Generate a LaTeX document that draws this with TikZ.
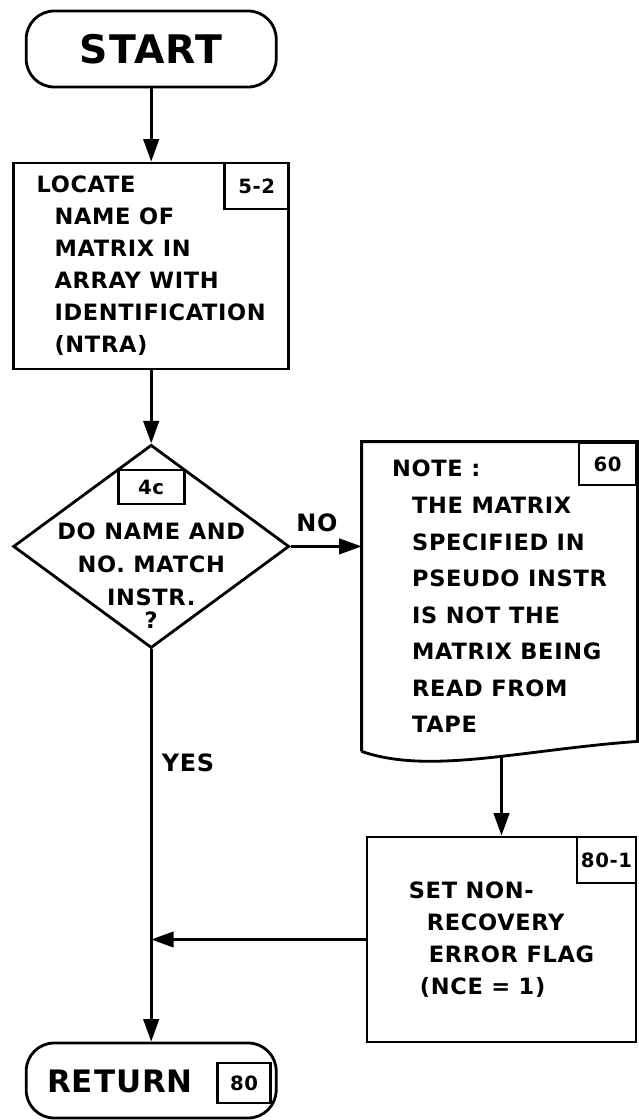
\documentclass[tikz,border=0pt]{standalone}
\usepackage{fontspec}
\setmainfont{DejaVu Sans}[UprightFont=* Bold,LetterSpace=3]
\usetikzlibrary{shapes.geometric,arrows.meta}

\begin{document}
\begin{tikzpicture}[line width=2pt,>={Triangle[length=16pt,width=11pt]},
  term/.style={draw,rounded corners=0.7cm,minimum width=6.25cm,minimum height=1.9cm},
  proc/.style={draw,align=left,font=\fontsize{16}{22.75}\selectfont},
  tag/.style={draw,inner sep=0pt,font=\fontsize{14}{16}\selectfont},
  lbl/.style={font=\fontsize{17}{20}\selectfont}]
\useasboundingbox (0,0) rectangle (15.95,-28);
% main column
\node[term,font=\fontsize{28}{30}\selectfont] (start) at (3.78,-1.225) {START};
\node[proc,minimum width=6.875cm,minimum height=5.15cm] (locate) at (3.78,-6.65)
  {LOCATE\\\hspace*{0.45cm}NAME OF\\\hspace*{0.45cm}MATRIX IN\\\hspace*{0.45cm}ARRAY WITH\\\hspace*{0.45cm}IDENTIFICATION\\\hspace*{0.45cm}(NTRA)};
\node[tag,minimum width=1.6cm,minimum height=1.15cm,anchor=north east] (tag52) at (locate.north east) {5-2};
\node[draw,diamond,minimum width=6.9cm,minimum height=5.08cm,inner sep=0pt] (decide) at (3.78,-13.66) {};
\node[tag,minimum width=1.65cm,minimum height=0.85cm] (tag4c) at (3.78,-12.175) {4c};
\node[align=center,font=\fontsize{16}{23.5}\selectfont] (ask) at (3.78,-14.4)
  {DO NAME AND\\NO. MATCH\\INSTR.\\[-7pt]?};
\node[term,minimum height=1.875cm] (return) at (3.78,-27.0125) {};
\node[font=\fontsize{22}{24}\selectfont] (rettxt) at (3.0,-27.025) {RETURN};
\node[tag,minimum width=1.325cm,minimum height=1cm] (tag80) at (6.1,-27.075) {80};
% right column
\node[proc,draw=none,minimum width=6.825cm,minimum height=7.675cm,font=\fontsize{16}{26}\selectfont] (note) at (12.4875,-14.9125)
  {NOTE :\\\hspace*{0.5cm}THE MATRIX\\\hspace*{0.5cm}SPECIFIED IN\\\hspace*{0.5cm}PSEUDO INSTR\\\hspace*{0.5cm}IS NOT THE\\\hspace*{0.5cm}MATRIX BEING\\\hspace*{0.5cm}READ FROM\\\hspace*{0.5cm}TAPE};
\draw (note.south west) -- (note.north west) -- (note.north east) -- ([yshift=0.25cm]note.south east)
  .. controls (13,-18.75) and (10.75,-19.375) .. (note.south west);
\node[tag,minimum width=1.425cm,minimum height=1.05cm,anchor=north east] (tag60) at (note.north east) {60};
\node[proc,minimum width=6.725cm,minimum height=5.125cm] (setflag) at (12.5375,-23.4875)
  {SET NON-\\\hspace*{0.45cm}RECOVERY\\\hspace*{0.5cm}ERROR FLAG\\\hspace*{0.275cm}(NCE = 1)};
\node[tag,minimum width=1.475cm,minimum height=1.15cm,anchor=north east] (tag801) at (setflag.north east) {80-1};
\coordinate (wave) at (12.5375,-18.93);
% flow lines
\draw[->] (start) -- (locate);
\draw[->] (locate) -- (decide);
\draw[->] (decide.east) -- (decide.east -| note.west);
\node[lbl] (no) at (7.925,-13.075) {NO};
\draw[->] (wave) -- (setflag.north);
\draw[->] (setflag.west) -- (setflag.west -| decide.south);
\draw[->] (decide.south) -- (return.north);
\node[lbl] (yes) at (4.7,-19.075) {YES};
\end{tikzpicture}
\end{document}
